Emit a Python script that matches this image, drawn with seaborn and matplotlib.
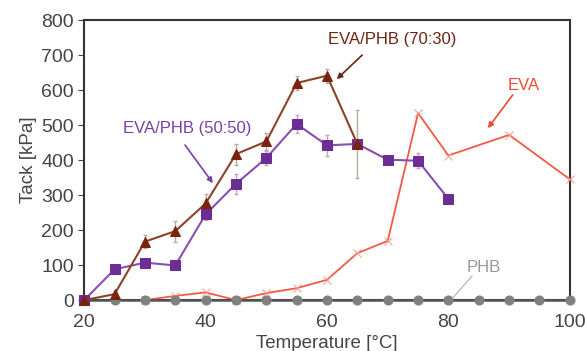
import matplotlib
matplotlib.use('Agg')
import matplotlib.pyplot as plt
import seaborn as sns

# temperatures [°C]
t_blend = [20, 25, 30, 35, 40, 45, 50, 55, 60, 65]
t_blend50 = [20, 25, 30, 35, 40, 45, 50, 55, 60, 65, 70, 75, 80]
t_eva = [30, 35, 40, 45, 50, 55, 60, 65, 70, 75, 80, 90, 100]
t_phb = [20, 25, 30, 35, 40, 45, 50, 55, 60, 65, 70, 75, 80, 85, 90, 95, 100]

# tack [kPa]
tack_7030 = [0, 17, 167, 197, 276, 417, 453, 620, 641, 446]
err_7030 = [0, 0, 18, 30, 28, 30, 25, 20, 20, 97]
tack_5050 = [0, 88, 107, 99, 245, 332, 406, 503, 442, 446, 401, 398, 289]
err_5050 = [0, 0, 0, 0, 15, 28, 20, 25, 30, 0, 12, 22, 0]
tack_eva = [0, 12, 22, 0, 20, 34, 58, 134, 169, 534, 413, 472, 345]
tack_phb = [0] * len(t_phb)

c_7030 = '#8a4326'
c_7030_m = '#7a2410'
c_5050 = '#8750b0'
c_5050_m = '#6d2d95'
c_eva = '#f25a45'
c_phb = '#808080'

sns.set_style('white')
plt.rcParams['font.family'] = ['Liberation Sans', 'DejaVu Sans']

fig = plt.figure(figsize=(5.85, 3.51), dpi=100)
ax = fig.add_axes([0.144, 0.145, 0.830, 0.798])

# error bars
ax.errorbar(t_blend, tack_7030, yerr=err_7030, fmt='none', ecolor='#b8aaa0',
            elinewidth=1, capsize=1.5, zorder=2)
ax.errorbar(t_blend50, tack_5050, yerr=err_5050, fmt='none', ecolor='#b8a8c0',
            elinewidth=1, capsize=1.5, zorder=2)

sns.lineplot(x=t_eva, y=tack_eva, ax=ax, color=c_eva, lw=1.3, marker='x',
             markersize=6, markeredgecolor='#f4a090', zorder=3, clip_on=False)
sns.lineplot(x=t_phb, y=tack_phb, ax=ax, color='#555555', lw=1.8, marker='o',
             markersize=6.5, markerfacecolor=c_phb, markeredgecolor=c_phb,
             zorder=3, clip_on=False)
sns.lineplot(x=t_blend50, y=tack_5050, ax=ax, color=c_5050, lw=1.5, marker='s',
             markersize=7, markerfacecolor=c_5050_m, markeredgecolor=c_5050_m,
             zorder=4, clip_on=False)
sns.lineplot(x=t_blend, y=tack_7030, ax=ax, color=c_7030, lw=1.5, marker='^',
             markersize=7, markerfacecolor=c_7030_m, markeredgecolor=c_7030_m,
             zorder=5, clip_on=False)

ax.set_xlim(20, 100)
ax.set_ylim(0, 800)
ax.set_xticks([20, 40, 60, 80, 100])
ax.set_yticks(range(0, 801, 100))
ax.tick_params(axis='both', labelsize=14, colors='#444444', length=4,
               direction='out', left=True, bottom=False)
ax.tick_params(axis='x', pad=6)
for s in ax.spines.values():
    s.set_color('#333333')
    s.set_linewidth(1.5)

ax.set_xlabel('Temperature [°C]', fontsize=13.5, color='#444444', labelpad=3)
ax.set_ylabel('Tack [kPa]', fontsize=13.5, color='#444444', labelpad=3)

# labels and their pointer arrows
ax.text(70.8, 743, 'EVA/PHB (70:30)', ha='center', va='center',
        fontsize=12, color='#6a2513')
ax.annotate('', xy=(61.6, 631), xytext=(65.8, 700),
            arrowprops=dict(arrowstyle='-|>', color='#6a2513', lw=1.2,
                            mutation_scale=8, shrinkA=0, shrinkB=0))
ax.text(37.0, 491, 'EVA/PHB (50:50)', ha='center', va='center',
        fontsize=12, color='#7a3ea8')
ax.annotate('', xy=(41.2, 334), xytext=(36.6, 443),
            arrowprops=dict(arrowstyle='-|>', color='#7a3ea8', lw=1.2,
                            mutation_scale=8, shrinkA=0, shrinkB=0))
ax.text(92.4, 614, 'EVA', ha='center', va='center',
        fontsize=12, color='#f04a36')
ax.annotate('', xy=(86.5, 491), xytext=(90.6, 586),
            arrowprops=dict(arrowstyle='-|>', color='#f04a36', lw=1.2,
                            mutation_scale=8, shrinkA=0, shrinkB=0))
ax.text(85.8, 94, 'PHB', ha='center', va='center',
        fontsize=12, color='#999999')
ax.annotate('', xy=(80.7, 6), xytext=(83.9, 69),
            arrowprops=dict(arrowstyle='-', color='#bbbbbb', lw=1.0,
                            shrinkA=0, shrinkB=0))

fig.savefig('out.png', dpi=100)
